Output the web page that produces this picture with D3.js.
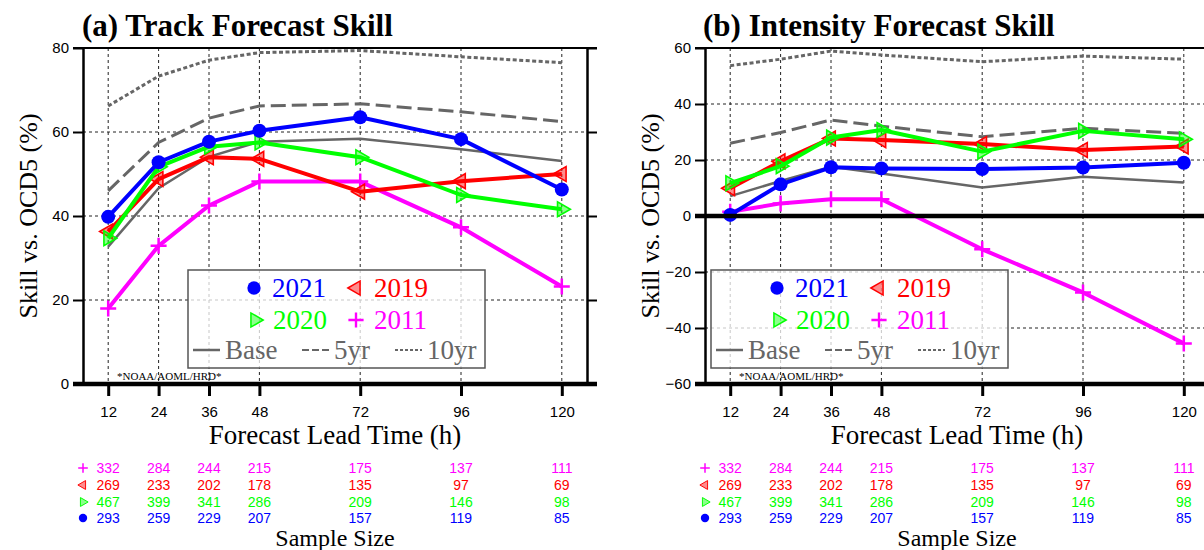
<!DOCTYPE html>
<html>
<head>
<meta charset="utf-8">
<script src="https://cdn.jsdelivr.net/npm/d3@7.9.0/dist/d3.min.js"></script>
<style>
  body { margin: 0; background: #fff; }
  svg { display: block; }
</style>
</head>
<body>
<script>
// lead times (h)
const leadTimes = [12, 24, 36, 48, 72, 96, 120];

// (a) track skill (%)
const trackBase = [32.7, 46.6, 54.1, 57.7, 58.4, 55.9, 53.1];
const track5yr = [46.0, 57.5, 63.3, 66.2, 66.7, 64.8, 62.5];
const track10yr = [66.2, 73.3, 77.1, 78.9, 79.4, 77.9, 76.5];
const track2011 = [18.0, 32.9, 42.5, 48.2, 48.2, 37.3, 23.2];
const track2019 = [36.3, 48.8, 54.0, 53.6, 45.8, 48.3, 50.0];
const track2020 = [34.7, 51.7, 56.5, 57.5, 54.0, 45.0, 41.6];
const track2021 = [39.8, 52.8, 57.7, 60.3, 63.5, 58.3, 46.3];

// (b) intensity skill (%)
const intBase = [7.1, 12.5, 17.6, 15.2, 10.2, 14.0, 12.0];
const int5yr = [26.0, 29.8, 34.3, 32.1, 28.3, 31.3, 29.5];
const int10yr = [53.7, 56.0, 58.9, 57.5, 55.1, 57.1, 56.0];
const int2011 = [1.5, 4.5, 6.0, 6.0, -11.9, -27.3, -45.5];
const int2019 = [9.9, 19.5, 27.7, 27.1, 25.7, 23.6, 24.8];
const int2020 = [11.7, 17.8, 28.0, 30.7, 23.0, 30.4, 27.4];
const int2021 = [0.4, 11.3, 17.4, 17.0, 16.8, 17.3, 19.0];

// sample sizes
const samples2011 = [332, 284, 244, 215, 175, 137, 111];
const samples2019 = [269, 233, 202, 178, 135, 97, 69];
const samples2020 = [467, 399, 341, 286, 209, 146, 98];
const samples2021 = [293, 259, 229, 207, 157, 119, 85];

const trackTicks = [0, 20, 40, 60, 80];
const intTicks = [-60, -40, -20, 0, 20, 40, 60];

const W = 1204, H = 550;
const TOP = 48, BOTTOM = 384, PW = 504;
const serif = "'Liberation Serif', 'Times New Roman', serif";
const sans = "'Liberation Sans', Arial, sans-serif";

const colors = { c2021: "#0000ff", c2020: "#00ff00", c2019: "#ff0000", c2011: "#ff00ff", ref: "#666666" };

const svg = d3.select("body").append("svg")
  .attr("width", W).attr("height", H)
  .style("background", "#fff");

// marker drawing
function drawMarker(g, kind, color, cx, cy, s) {
  if (kind === "circle") {
    g.append("circle").attr("cx", cx).attr("cy", cy).attr("r", 7 * s).attr("fill", color);
  } else if (kind === "plus") {
    const a = 8 * s;
    g.append("path")
      .attr("d", `M${cx - a},${cy}H${cx + a}M${cx},${cy - a}V${cy + a}`)
      .attr("stroke", color).attr("stroke-width", 2.5 * s).attr("fill", "none");
  } else {
    const rot = kind === "right" ? 90 : -90;
    g.append("path")
      .attr("d", d3.symbol(d3.symbolTriangle, 95 * s * s)())
      .attr("transform", `translate(${cx},${cy}) rotate(${rot})`)
      .attr("fill", color).attr("fill-opacity", 0.45)
      .attr("stroke", color).attr("stroke-width", 1.6 * s);
  }
}

function drawPanel(p) {
  const x = d3.scaleLinear().domain([6, 126]).range([p.left, p.left + PW]);
  const y = d3.scaleLinear().domain(p.yDomain).range([BOTTOM, TOP]);
  const g = svg.append("g");

  // grid
  g.selectAll(".vgrid").data(leadTimes).join("line")
    .attr("x1", d => x(d)).attr("x2", d => x(d))
    .attr("y1", TOP).attr("y2", BOTTOM)
    .attr("stroke", "#222").attr("stroke-width", 1).attr("stroke-dasharray", "3,3");
  g.selectAll(".hgrid").data(p.gridTicks).join("line")
    .attr("x1", p.left).attr("x2", p.left + PW)
    .attr("y1", d => y(d)).attr("y2", d => y(d))
    .attr("stroke", "#222").attr("stroke-width", 1).attr("stroke-dasharray", "3,3");

  const line = d3.line().x((d, i) => x(leadTimes[i])).y(d => y(d));

  // reference lines
  g.append("path").datum(p.ref10).attr("d", line).attr("fill", "none")
    .attr("stroke", colors.ref).attr("stroke-width", 3).attr("stroke-dasharray", "4,2.5");
  g.append("path").datum(p.ref5).attr("d", line).attr("fill", "none")
    .attr("stroke", colors.ref).attr("stroke-width", 3).attr("stroke-dasharray", "15,6");
  g.append("path").datum(p.base).attr("d", line).attr("fill", "none")
    .attr("stroke", colors.ref).attr("stroke-width", 2.5);

  // legend box (under the series)
  drawLegend(g, p.legendX);

  const series = [
    { vals: p.s2011, color: colors.c2011, kind: "plus" },
    { vals: p.s2019, color: colors.c2019, kind: "left" },
    { vals: p.s2020, color: colors.c2020, kind: "right" },
    { vals: p.s2021, color: colors.c2021, kind: "circle" }
  ];
  series.forEach(s => {
    g.append("path").datum(s.vals).attr("d", line).attr("fill", "none")
      .attr("stroke", s.color).attr("stroke-width", 4).attr("stroke-linejoin", "round");
    s.vals.forEach((v, i) => drawMarker(g, s.kind, s.color, x(leadTimes[i]), y(v), 1));
  });

  // axes / frame
  const left = g.append("g").attr("transform", `translate(${p.left},0)`)
    .call(d3.axisLeft(y).tickValues(p.yTicks).tickSize(10).tickSizeOuter(0).tickPadding(4));
  left.select(".domain").attr("stroke-width", 2.5);
  left.selectAll(".tick line").attr("stroke-width", 2);
  left.selectAll(".tick text").attr("font-family", sans).attr("font-size", 15).attr("fill", "#000");

  const right = g.append("g").attr("transform", `translate(${p.left + PW},0)`)
    .call(d3.axisRight(y).tickValues(p.yTicks).tickSize(10).tickSizeOuter(0).tickFormat(""));
  right.select(".domain").attr("stroke-width", 2.5);
  right.selectAll(".tick line").attr("stroke-width", 2);

  g.append("line").attr("x1", p.left - 10).attr("x2", p.left + PW + 10)
    .attr("y1", TOP).attr("y2", TOP).attr("stroke", "#000").attr("stroke-width", 2);

  const bottom = g.append("g").attr("transform", `translate(0,${BOTTOM})`)
    .call(d3.axisBottom(x).tickValues(leadTimes).tickSize(12).tickSizeOuter(0).tickPadding(10));
  bottom.select(".domain").remove();
  bottom.selectAll(".tick line").attr("stroke-width", 3);
  bottom.selectAll(".tick text").attr("font-family", sans).attr("font-size", 15).attr("fill", "#000");

  // thick lines at bottom and zero
  const thick = [p.yDomain[0]];
  if (p.yDomain[0] < 0) thick.push(0);
  g.selectAll(".thick").data(thick).join("line")
    .attr("x1", p.left - 10).attr("x2", p.left + PW + 10)
    .attr("y1", d => y(d)).attr("y2", d => y(d))
    .attr("stroke", "#000").attr("stroke-width", 4.5);

  // texts
  g.append("text").attr("x", p.titleX).attr("y", 36)
    .attr("font-family", serif).attr("font-weight", "bold").attr("font-size", 31)
    .text(p.title);
  g.append("text")
    .attr("transform", `translate(${p.left - 55},${(TOP + BOTTOM) / 2}) rotate(-90)`)
    .attr("text-anchor", "middle").attr("dominant-baseline", "central")
    .attr("font-family", serif).attr("font-size", 26)
    .text("Skill vs. OCD5 (%)");
  g.append("text").attr("x", p.left + PW / 2).attr("y", 444)
    .attr("text-anchor", "middle").attr("font-family", serif).attr("font-size", 27)
    .text("Forecast Lead Time (h)");
  g.append("text").attr("x", p.left + 34).attr("y", 380)
    .attr("font-family", serif).attr("font-size", 11)
    .text("*NOAA/AOML/HRD*");

  // sample size table
  const rows = [
    { vals: samples2011, color: colors.c2011, kind: "plus", cy: 468 },
    { vals: samples2019, color: colors.c2019, kind: "left", cy: 485 },
    { vals: samples2020, color: colors.c2020, kind: "right", cy: 502 },
    { vals: samples2021, color: colors.c2021, kind: "circle", cy: 518 }
  ];
  rows.forEach(r => {
    drawMarker(g, r.kind, r.color, p.left, r.cy, 0.6);
    g.selectAll(null).data(r.vals).join("text")
      .attr("x", (d, i) => x(leadTimes[i])).attr("y", r.cy + 5)
      .attr("text-anchor", "middle").attr("font-family", sans).attr("font-size", 14)
      .attr("fill", r.color).text(d => d);
  });
  g.append("text").attr("x", p.left + PW / 2).attr("y", 546)
    .attr("text-anchor", "middle").attr("font-family", serif).attr("font-size", 24)
    .text("Sample Size");
}

function drawLegend(g, lx) {
  const lg = g.append("g");
  lg.append("rect").attr("x", lx).attr("y", 270).attr("width", 297).attr("height", 98)
    .attr("fill", "#fff").attr("fill-opacity", 0.75)
    .attr("stroke", "#555").attr("stroke-width", 1.5);
  const items = [
    { kind: "circle", color: colors.c2021, label: "2021", dx: 66, cy: 288 },
    { kind: "left", color: colors.c2019, label: "2019", dx: 168, cy: 288 },
    { kind: "right", color: colors.c2020, label: "2020", dx: 67, cy: 320 },
    { kind: "plus", color: colors.c2011, label: "2011", dx: 168, cy: 320 }
  ];
  items.forEach(it => {
    drawMarker(lg, it.kind, it.color, lx + it.dx, it.cy, 0.95);
    lg.append("text").attr("x", lx + it.dx + 18).attr("y", it.cy + 9)
      .attr("font-family", serif).attr("font-size", 27).attr("fill", it.color)
      .text(it.label);
  });
  const refs = [
    { label: "Base", dx: 5, dash: null },
    { label: "5yr", dx: 114, dash: "7,3" },
    { label: "10yr", dx: 207, dash: "3,2" }
  ];
  refs.forEach(r => {
    lg.append("line").attr("x1", lx + r.dx).attr("x2", lx + r.dx + 27)
      .attr("y1", 350).attr("y2", 350)
      .attr("stroke", colors.ref).attr("stroke-width", r.dash ? 2 : 2.5)
      .attr("stroke-dasharray", r.dash);
    lg.append("text").attr("x", lx + r.dx + 32).attr("y", 359)
      .attr("font-family", serif).attr("font-size", 27).attr("fill", colors.ref)
      .text(r.label);
  });
}

drawPanel({
  left: 83, titleX: 82, title: "(a) Track Forecast Skill",
  yDomain: [0, 80], yTicks: trackTicks, gridTicks: [20, 40, 60],
  legendX: 188,
  base: trackBase, ref5: track5yr, ref10: track10yr,
  s2011: track2011, s2019: track2019, s2020: track2020, s2021: track2021
});

drawPanel({
  left: 705, titleX: 703, title: "(b) Intensity Forecast Skill",
  yDomain: [-60, 60], yTicks: intTicks, gridTicks: [-40, -20, 20, 40],
  legendX: 711,
  base: intBase, ref5: int5yr, ref10: int10yr,
  s2011: int2011, s2019: int2019, s2020: int2020, s2021: int2021
});
</script>
</body>
</html>
